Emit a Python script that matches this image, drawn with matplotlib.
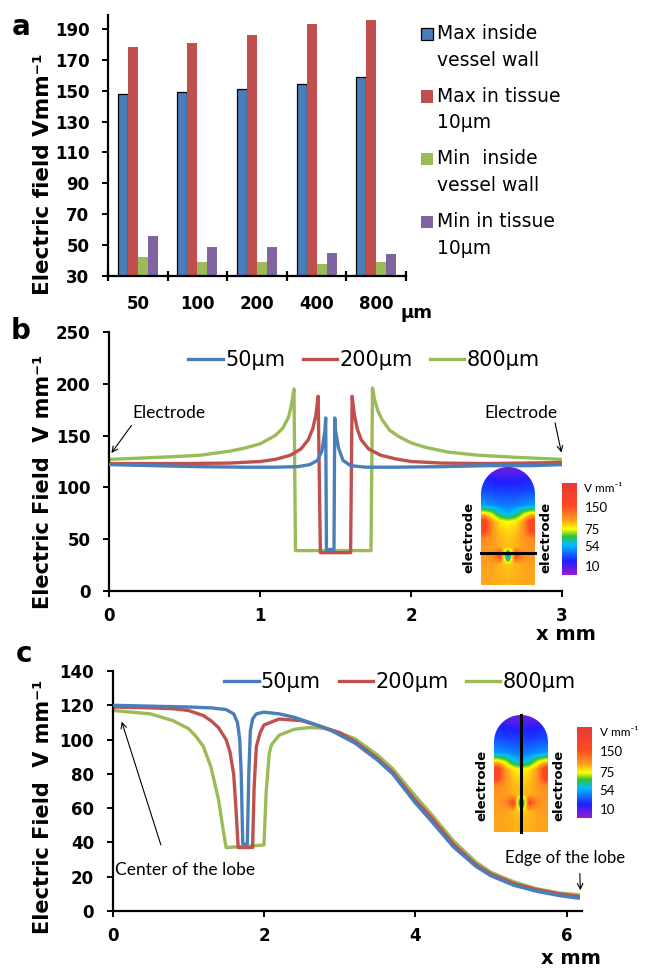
import numpy as np
import matplotlib.pyplot as plt
from matplotlib.colors import LinearSegmentedColormap
from matplotlib.path import Path
from matplotlib.patches import PathPatch, Rectangle
from matplotlib.container import BarContainer
from matplotlib.legend_handler import HandlerPatch, update_from_first_child
plt.switch_backend('Agg')

# ---- panel a data ----
diameters = ['50', '100', '200', '400', '800']
max_wall = [148, 149, 151, 154, 159]
max_tissue = [178, 181, 186, 193, 196]
min_wall = [42, 39, 39, 38, 39]
min_tissue = [56, 49, 49, 45, 44]
bar_labels = ['Max inside\nvessel wall', 'Max in tissue\n10µm',
              'Min  inside\nvessel wall', 'Min in tissue\n10µm']

# ---- panel b data (field across the lobe) ----
b50_x = [0, 0.3, 0.6, 0.9, 1.1, 1.25, 1.33, 1.38, 1.41, 1.43, 1.435, 1.44, 1.49, 1.495,
         1.50, 1.52, 1.55, 1.6, 1.7, 1.9, 2.2, 2.5, 2.8, 3.0]
b50_y = [122, 121, 120, 119.5, 119.5, 120, 122, 126, 135, 155, 167, 40, 40, 167,
         155, 138, 126, 121, 119.5, 119.5, 120, 121, 121, 122]
b200_x = [0, 0.5, 0.8, 1.0, 1.1, 1.2, 1.27, 1.32, 1.35, 1.37, 1.385, 1.40, 1.60, 1.61,
          1.625, 1.645, 1.67, 1.72, 1.8, 1.9, 2.0, 2.2, 2.5, 3.0]
b200_y = [123, 123, 123.5, 125, 127, 131, 137, 146, 157, 170, 188, 37, 37, 188,
          170, 156, 146, 137, 131, 127.5, 125, 123.5, 123, 124]
b800_x = [0, 0.4, 0.6, 0.8, 0.9, 1.0, 1.05, 1.1, 1.15, 1.19, 1.21, 1.225, 1.235, 1.735,
          1.745, 1.76, 1.78, 1.81, 1.86, 1.92, 2.0, 2.1, 2.25, 2.45, 2.7, 3.0]
b800_y = [127, 129.5, 131, 135, 138, 142, 146, 150, 157, 168, 181, 195, 39, 39,
          196, 184, 174, 165, 155, 149, 143, 138.5, 134, 131, 129, 127]

# ---- panel c data (centre to edge of the lobe) ----
c50_x = [0, 0.5, 1.0, 1.3, 1.5, 1.6, 1.65, 1.68, 1.7, 1.72, 1.78, 1.80, 1.82, 1.85, 1.9,
         2.0, 2.2, 2.4, 2.7, 2.9, 3.2, 3.5, 3.7, 4.0, 4.2, 4.5, 4.8, 5.0, 5.3, 5.6, 5.9, 6.15]
c50_y = [120, 119.5, 119, 118.5, 117.5, 115, 110, 100, 80, 39, 39, 80, 105, 112, 115,
         116, 115, 113, 108.5, 105, 98, 88, 80, 63, 53, 37.5, 26, 20.5, 15, 11.5, 9, 7.5]
c200_x = [0, 0.5, 0.8, 1.0, 1.2, 1.3, 1.4, 1.5, 1.55, 1.6, 1.63, 1.66, 1.85, 1.87, 1.9,
          1.95, 2.0, 2.2, 2.5, 2.8, 3.0, 3.2, 3.5, 3.7, 4.0, 4.2, 4.5, 4.8, 5.0, 5.3, 5.6,
          5.9, 6.15]
c200_y = [119, 118.5, 118, 117, 114, 111, 107, 100, 93, 80, 60, 37, 37, 72, 96,
          104, 108.5, 112, 111, 107, 104, 99, 89, 81, 64.5, 55, 39, 27, 21.5, 16, 12.5,
          10, 8.5]
c800_x = [0, 0.5, 0.8, 1.0, 1.1, 1.2, 1.3, 1.4, 1.47, 1.5, 2.0, 2.03, 2.07, 2.1, 2.2,
          2.4, 2.6, 2.8, 3.0, 3.2, 3.5, 3.7, 4.0, 4.2, 4.5, 4.8, 5.0, 5.3, 5.6, 5.9, 6.15]
c800_y = [117, 115, 111, 106.5, 102, 96, 84, 65, 45, 37, 38.5, 70, 92, 97, 102.5,
          106, 107, 106.5, 104, 100.5, 91, 83, 67, 57, 41, 28.5, 22.5, 17, 13, 10.5, 9.5]
line_labels = ['50µm', '200µm', '800µm']

# inset field maps (V/mm, coarse, top row = tip of the lobe)
inset_field = np.array([
    [12, 10, 8, 8, 8, 10, 12],
    [25, 22, 20, 20, 20, 22, 25],
    [30, 28, 27, 27, 27, 28, 30],
    [40, 38, 36, 35, 36, 38, 40],
    [52, 48, 45, 44, 45, 48, 52],
    [85, 72, 60, 55, 60, 72, 85],
    [165, 110, 85, 78, 85, 110, 165],
    [160, 112, 95, 88, 95, 112, 160],
    [118, 110, 100, 95, 100, 110, 118],
    [112, 108, 102, 98, 102, 108, 112],
    [110, 120, 160, 35, 160, 120, 110],
    [108, 106, 100, 92, 100, 106, 108],
    [106, 105, 102, 98, 102, 105, 106],
    [105, 105, 103, 100, 103, 105, 105],
])
cbar_ticks = [150, 75, 54, 10]
cbar_pos = [0.73, 0.49, 0.30, 0.09]

BLUE = '#4a7ebb'
RED = '#c0504d'
GREEN = '#9bbb59'
PURPLE = '#8064a2'

plt.rcParams['font.family'] = 'DejaVu Sans'
rainbow = LinearSegmentedColormap.from_list('field', [
    (0.0, '#9a1ad0'), (0.15, '#2020ff'), (0.33, '#00c0ff'), (0.42, '#30c040'),
    (0.5, '#ffff00'), (0.6, '#ff9a20'), (0.75, '#ff4a20'), (1.0, '#e83a3a')])

fig = plt.figure(figsize=(6.54, 9.71), dpi=100)
W, H = 654.0, 971.0


def px_axes(x0, y0, x1, y1):
    return fig.add_axes([x0 / W, 1 - y1 / H, (x1 - x0) / W, (y1 - y0) / H])


def style(ax):
    for s in ['top', 'right']:
        ax.spines[s].set_visible(False)
    for s in ['left', 'bottom']:
        ax.spines[s].set_linewidth(1.6)
    ax.tick_params(direction='out', length=4, width=1.4, labelsize=12)
    ax.tick_params(axis='y', pad=9.4)
    ax.tick_params(axis='x', pad=7.5)
    for t in ax.get_xticklabels() + ax.get_yticklabels():
        t.set_fontweight('bold')


def add_inset(x0, y0, x1, y1, cb_x0, cb_y0, cb_x1, cb_y1, horizontal):
    ia = px_axes(x0, y0, x1, y1)
    im = ia.imshow(inset_field_frac, cmap=rainbow, vmin=0, vmax=1, aspect='auto',
                   interpolation='bilinear', extent=(0, 1, 0, 1))
    r = 0.5 * (x1 - x0) / (y1 - y0)
    t = np.linspace(0, np.pi, 40)
    verts = [(0, 0), (1, 0)] + [(0.5 + 0.5 * np.cos(a), 1 - r + r * np.sin(a)) for a in t] + [(0, 0)]
    clip = PathPatch(Path(verts), transform=ia.transData, facecolor='none', edgecolor='none')
    ia.add_patch(clip)
    im.set_clip_path(clip)
    if horizontal:
        ia.plot([0, 1], [0.275, 0.275], color='black', lw=2.2, clip_on=False)
    else:
        ia.plot([0.5, 0.5], [0, 1], color='black', lw=2.2, clip_on=False)
    ia.set_xlim(0, 1)
    ia.set_ylim(0, 1)
    ia.axis('off')
    ia.text(-0.1, 0.4, 'electrode', rotation=90, ha='right', va='center',
            fontsize=9.5, fontweight='bold', transform=ia.transAxes)
    ia.text(1.08, 0.4, 'electrode', rotation=90, ha='left', va='center',
            fontsize=9.5, fontweight='bold', transform=ia.transAxes)
    ca = px_axes(cb_x0, cb_y0, cb_x1, cb_y1)
    ca.imshow(np.linspace(0, 1, 256).reshape(-1, 1), cmap=rainbow, origin='lower',
              aspect='auto', extent=(0, 1, 0, 1))
    ca.axis('off')
    ca.text(1.5, 1.0, 'V mm⁻¹', fontsize=8.5, family='Lato', ha='left', va='top',
            transform=ca.transAxes)
    for v, p in zip(cbar_ticks, cbar_pos):
        ca.text(1.5, p, str(v), fontsize=9.5, family='Lato', ha='left', va='center',
                transform=ca.transAxes)


def square_up(legend, orig_handle, xdescent, ydescent, width, height, fontsize):
    # square next to the first line of a two-line label
    return Rectangle((-xdescent, -ydescent + 10), width, height)


# map field values to colour-bar position
inset_field_frac = np.interp(inset_field, [0, 10, 54, 75, 150, 200],
                             [0.0, 0.09, 0.30, 0.49, 0.73, 1.0])

# ---------------- panel a ----------------
ax = px_axes(108, 15, 406, 276)
x = np.arange(len(diameters))
w = 0.168
ax.bar(x - 1.5 * w, max_wall, w, color=BLUE, edgecolor='black', linewidth=0.9,
       label=bar_labels[0])
ax.bar(x - 0.5 * w, max_tissue, w, color=RED, label=bar_labels[1])
ax.bar(x + 0.5 * w, min_wall, w, color=GREEN, label=bar_labels[2])
ax.bar(x + 1.5 * w, min_tissue, w, color=PURPLE, label=bar_labels[3])
ax.set_xlim(-0.5, 4.5)
ax.set_ylim(30, 199)
ax.set_yticks(np.arange(30, 191, 20))
ax.set_xticks(x)
ax.set_xticklabels(diameters)
ax.set_xticks(np.arange(-0.5, 4.6, 1), minor=True)
style(ax)
ax.tick_params(axis='x', which='major', length=0, pad=14)
ax.tick_params(axis='x', which='minor', length=7, width=1.6, direction='inout')
ax.set_ylabel('Electric field Vmm⁻¹', fontsize=15.5, fontweight='bold')
ax.yaxis.set_label_coords(-0.185, 0.39)
ax.text(417 / W, 1 - 313 / H, 'µm', transform=fig.transFigure, ha='center', va='center',
        fontsize=13, fontweight='bold')
leg = ax.legend(loc='upper left', bbox_to_anchor=(421 / W, 1 - 24 / H),
                bbox_transform=fig.transFigure, frameon=False,
                prop={'size': 13.5},
                handler_map={BarContainer: HandlerPatch(patch_func=square_up,
                                                        update_func=update_from_first_child)},
                handlelength=0.64, handleheight=0.64, handletextpad=0.2, labelspacing=0.92,
                borderaxespad=0, borderpad=0)
for t in leg.get_texts():
    t.set_linespacing(1.5)
fig.text(21 / W, 1 - 27 / H, 'a', fontsize=20, fontweight='bold', ha='center', va='center')

# ---------------- panel b ----------------
ax = px_axes(109, 332, 562, 591)
ax.plot(b50_x, b50_y, color=BLUE, lw=2.4, label=line_labels[0], zorder=3)
ax.plot(b200_x, b200_y, color=RED, lw=2.4, label=line_labels[1], zorder=2)
ax.plot(b800_x, b800_y, color=GREEN, lw=2.4, label=line_labels[2], zorder=1)
ax.set_xlim(0, 3)
ax.set_ylim(0, 250)
ax.set_xticks([0, 1, 2, 3])
ax.set_yticks(np.arange(0, 251, 50))
style(ax)
ax.set_ylabel('Electric Field  V mm⁻¹', fontsize=15, fontweight='bold')
ax.yaxis.set_label_coords(-0.124, 0.42)
ax.set_xlabel('x mm', fontsize=14, fontweight='bold')
ax.xaxis.set_label_coords((566 - 109) / 453, -34 / 259)
h, l = ax.get_legend_handles_labels()
ax.legend(h, l, loc='center', bbox_to_anchor=(364 / W, 1 - 360 / H),
          bbox_transform=fig.transFigure, ncol=3, frameon=False, fontsize=15,
          handlelength=1.65, handletextpad=0.1, columnspacing=0.85)
ax.annotate('', xy=(0.005, 131), xytext=(0.16, 162),
            arrowprops=dict(arrowstyle='->', lw=0.8, color='black'))
ax.text(0.40, 172, 'Electrode', family='Lato', fontsize=12.5, ha='center', va='center')
ax.annotate('', xy=(3.0, 131), xytext=(2.95, 165),
            arrowprops=dict(arrowstyle='->', lw=0.8, color='black'), annotation_clip=False)
ax.text(2.73, 172, 'Electrode', family='Lato', fontsize=12.5, ha='center', va='center')
fig.text(21 / W, 1 - 331 / H, 'b', fontsize=20, fontweight='bold', ha='center', va='center')
add_inset(481, 467, 535, 585, 562, 483, 577, 575, True)

# ---------------- panel c ----------------
ax = px_axes(112.5, 671, 582, 911)
ax.plot(c50_x, c50_y, color=BLUE, lw=2.4, label=line_labels[0], zorder=3)
ax.plot(c200_x, c200_y, color=RED, lw=2.4, label=line_labels[1], zorder=2)
ax.plot(c800_x, c800_y, color=GREEN, lw=2.4, label=line_labels[2], zorder=1)
ax.set_xlim(0, 6.2)
ax.set_ylim(0, 140)
ax.set_xticks([0, 2, 4, 6])
ax.set_yticks(np.arange(0, 141, 20))
style(ax)
ax.set_ylabel('Electric Field  V mm⁻¹', fontsize=15, fontweight='bold')
ax.yaxis.set_label_coords(-0.127, 0.433)
ax.set_xlabel('x mm', fontsize=14, fontweight='bold')
ax.xaxis.set_label_coords((571 - 112.5) / 469.5, -38 / 240)
h, l = ax.get_legend_handles_labels()
ax.legend(h, l, loc='center', bbox_to_anchor=(400 / W, 1 - 682 / H),
          bbox_transform=fig.transFigure, ncol=3, frameon=False, fontsize=15,
          handlelength=1.65, handletextpad=0.1, columnspacing=0.85)
ax.annotate('', xy=(0.11, 112), xytext=(0.65, 37),
            arrowprops=dict(arrowstyle='->', lw=0.8, color='black'))
ax.text(0.03, 24, 'Center of the lobe', family='Lato', fontsize=12.5, ha='left', va='center')
ax.annotate('', xy=(6.18, 10.5), xytext=(6.17, 23.5),
            arrowprops=dict(arrowstyle='->', lw=0.8, color='black'), annotation_clip=False)
ax.text(5.98, 31, 'Edge of the lobe', family='Lato', fontsize=12, ha='center', va='center')
fig.text(24 / W, 1 - 654 / H, 'c', fontsize=20, fontweight='bold', ha='center', va='center')
add_inset(494, 715, 548, 832, 577, 727, 592, 818, False)

plt.savefig('out.png', dpi=100)
plt.close(fig)
